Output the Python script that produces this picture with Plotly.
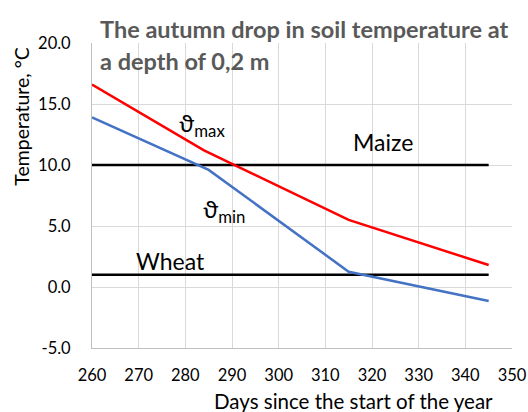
import plotly.graph_objects as go

days_max = [260, 284, 315, 345]
t_max = [16.6, 11.2, 5.5, 1.8]
days_min = [260, 285, 315, 345]
t_min = [13.9, 9.6, 1.25, -1.15]
threshold_days = [260, 345]
maize_t = [10.0, 10.0]
wheat_t = [1.0, 1.0]
x_ticks = [260, 270, 280, 290, 300, 310, 320, 330, 340, 350]
y_ticks = [-5, 0, 5, 10, 15, 20]

FONT = "Lato"
fig = go.Figure()
fig.add_trace(go.Scatter(x=threshold_days, y=maize_t, mode="lines", line=dict(color="#000000", width=2.5), hoverinfo="skip"))
fig.add_trace(go.Scatter(x=threshold_days, y=wheat_t, mode="lines", line=dict(color="#000000", width=2.5), hoverinfo="skip"))
fig.add_trace(go.Scatter(x=days_max, y=t_max, mode="lines", line=dict(color="#ff0000", width=2.5)))
fig.add_trace(go.Scatter(x=days_min, y=t_min, mode="lines", line=dict(color="#4472c4", width=2.5)))

fig.update_layout(
    width=528, height=412,
    margin=dict(l=92, r=16, t=43, b=64, autoexpand=False),
    paper_bgcolor="white", plot_bgcolor="white",
    showlegend=False,
    font=dict(family=FONT, size=16, color="#000000"),
    xaxis=dict(range=[260, 350], tickvals=x_ticks, ticktext=[str(v) for v in x_ticks],
               showgrid=True, gridcolor="#d9d9d9", gridwidth=1, automargin=False,
               showline=True, linecolor="#bfbfbf", linewidth=1, zeroline=False,
               ticks="outside", ticklen=12, tickcolor="rgba(0,0,0,0)",
               tickfont=dict(family=FONT, size=16.5, color="#000000")),
    yaxis=dict(range=[-5, 20], tickvals=y_ticks, ticktext=[f"{v:.1f}" for v in y_ticks],
               showgrid=True, gridcolor="#d9d9d9", gridwidth=1, automargin=False,
               showline=True, linecolor="#bfbfbf", linewidth=1, zeroline=False,
               ticks="outside", ticklen=17, tickcolor="rgba(0,0,0,0)",
               tickfont=dict(family=FONT, size=16.5, color="#000000")),
)

title_font = dict(family=FONT, size=23.5, color="#595959", weight="bold")
ann = [
    dict(text="The autumn drop in soil temperature at", xref="paper", yref="paper",
         x=0.014, y=1.046, xanchor="left", yanchor="middle", showarrow=False, font=title_font),
    dict(text="a depth of 0,2 m", xref="paper", yref="paper",
         x=0.014, y=0.941, xanchor="left", yanchor="middle", showarrow=False, font=title_font),
    dict(text="ϑ<sub>max</sub>", x=283.5, y=13.35, showarrow=False, font=dict(family=FONT, size=24)),
    dict(text="ϑ<sub>min</sub>", x=288.2, y=6.25, showarrow=False, font=dict(family=FONT, size=24)),
    dict(text="Maize", x=322.4, y=11.9, showarrow=False, font=dict(family=FONT, size=23)),
    dict(text="Wheat", x=276.8, y=2.1, showarrow=False, font=dict(family=FONT, size=23)),
    dict(text="Temperature, °C", xref="paper", yref="paper", x=-0.167, y=0.761, textangle=-90,
         xanchor="center", yanchor="middle", showarrow=False, font=dict(family=FONT, size=19.5)),
    dict(text="Days since the start of the year", xref="paper", yref="paper", x=0.622, y=-0.175,
         xanchor="center", yanchor="middle", showarrow=False, font=dict(family=FONT, size=20.5)),
]
fig.update_layout(annotations=ann)
fig.write_html("out.html", config={"displayModeBar": False},
               post_script="document.body.style.margin='0';document.body.style.overflow='hidden';")
